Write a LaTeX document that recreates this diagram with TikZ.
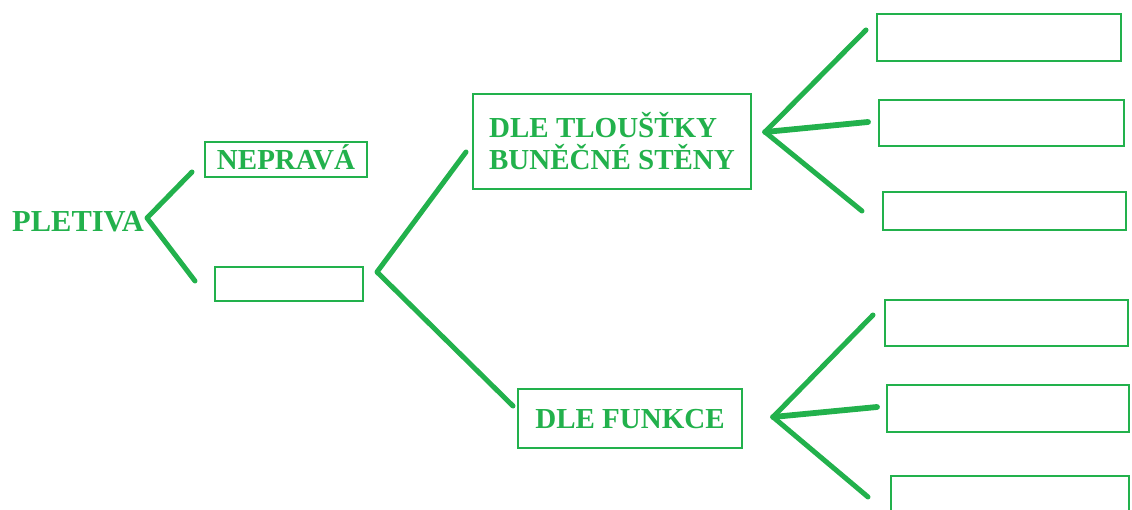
\documentclass[tikz,border=0pt]{standalone}
\usepackage{fontspec}
\setmainfont{Liberation Serif}
\definecolor{pgreen}{RGB}{34,177,76}
\begin{document}
\begin{tikzpicture}[x=1pt,y=-1pt,
  box/.style={draw=pgreen, line width=1.8pt, inner sep=0pt, rectangle, text=pgreen,
    font=\fontsize{29}{33}\selectfont\bfseries},
  fork/.style={draw=pgreen, line width=5pt, line cap=round, line join=round},
  lbl/.style={text=pgreen, inner sep=0pt, font=\fontsize{30.5}{33}\selectfont\bfseries}]
\useasboundingbox (0,0) rectangle (1132,510);
\clip (0,0) rectangle (1132,510);
% nodes
\node[lbl, anchor=base west] (pletiva) at (12,232) {PLETIVA};
\node[box, minimum width=162, minimum height=35, text height=19.5pt, text depth=0pt] (neprava) at (286,159.5) {NEPRAVÁ};
\node[box, minimum width=148, minimum height=34] (prava) at (289,284) {};
\node[box, minimum width=278, minimum height=95, align=left] (tloustka) at (612,141.5) {DLE TLOUŠŤKY\\[-1pt]BUNĚČNÉ STĚNY};
\node[box, minimum width=224, minimum height=59, text height=19pt, text depth=0pt] (funkce) at (630,418.5) {DLE FUNKCE};
\node[box, minimum width=244, minimum height=47] (r1) at (999,37.5) {};
\node[box, minimum width=245, minimum height=46] (r2) at (1001.5,123) {};
\node[box, minimum width=243, minimum height=38] (r3) at (1004.5,211) {};
\node[box, minimum width=243, minimum height=46] (r4) at (1006.5,323) {};
\node[box, minimum width=242, minimum height=47] (r5) at (1008,408.5) {};
\node[box, minimum width=238, minimum height=48] (r6) at (1010,500) {};
% fork coordinates
\coordinate (v1) at (147,218);
\coordinate (a1) at (192,172);
\coordinate (b1) at (195,281);
\coordinate (v2) at (377,272);
\coordinate (a2) at (466,152);
\coordinate (b2) at (513,406);
\coordinate (v3) at (765,132);
\coordinate (a3) at (866,30);
\coordinate (b3) at (868,122);
\coordinate (c3) at (862,211);
\coordinate (v4) at (773,417);
\coordinate (a4) at (873,315);
\coordinate (b4) at (877,407);
\coordinate (c4) at (868,497);
% connectors
\draw[fork] (a1) -- (v1) -- (b1);
\draw[fork] (a2) -- (v2) -- (b2);
\draw[fork] (a3) -- (v3) -- (c3);
\draw[fork, line width=5.8pt] (v3) -- (b3);
\draw[fork] (a4) -- (v4) -- (c4);
\draw[fork, line width=5.8pt] (v4) -- (b4);
\end{tikzpicture}
\end{document}
